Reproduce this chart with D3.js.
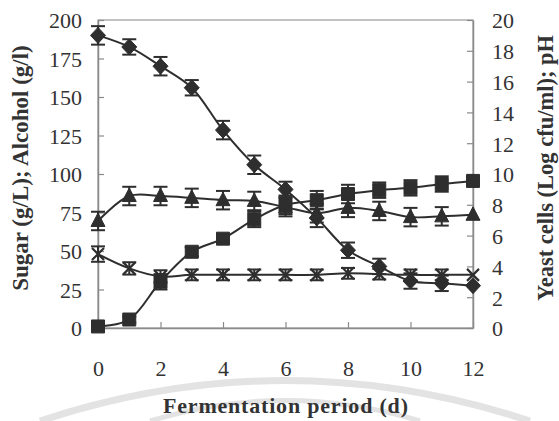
<!DOCTYPE html>
<html>
<head>
<meta charset="utf-8">
<script src="https://cdn.jsdelivr.net/npm/d3@7"></script>
<style>
  body { margin: 0; background: #fff; }
  svg { display: block; }
  text { font-family: "Liberation Serif", "Times New Roman", serif; fill: #333; }
</style>
</head>
<body>
<div id="chart"></div>
<script>
// fermentation days
var days = [0, 1, 2, 3, 4, 5, 6, 7, 8, 9, 10, 11, 12];

// left axis series (g/L)
var sugar      = [190, 182.5, 170, 156, 128.5, 106, 90, 71.5, 50.5, 40, 30.5, 29, 27.5];
var sugarErr   = [6, 5, 6, 5, 6, 6, 5, 6, 5, 5, 5, 5, 0];
var alcohol    = [1, 5.5, 30, 49.5, 58, 70.5, 80, 83, 87, 89.5, 91, 93.5, 95.5];
var alcoholErr = [2, 2, 5, 3, 2, 5, 6, 6, 6, 5, 5, 5, 0];

// right axis series
var yeast    = [6.95, 8.57, 8.57, 8.45, 8.3, 8.25, 7.85, 7.45, 7.8, 7.6, 7.2, 7.25, 7.35];
var yeastErr = [0.6, 0.6, 0.6, 0.6, 0.6, 0.6, 0.6, 0.6, 0.6, 0.6, 0.6, 0.6, 0];
var ph       = [4.8, 3.87, 3.35, 3.45, 3.45, 3.45, 3.45, 3.45, 3.55, 3.5, 3.45, 3.45, 3.45];
var phErr    = [0.5, 0.4, 0.4, 0.35, 0.35, 0.35, 0.35, 0.35, 0.35, 0.35, 0.35, 0.35, 0];

var leftTicks  = [0, 25, 50, 75, 100, 125, 150, 175, 200];
var rightTicks = [0, 2, 4, 6, 8, 10, 12, 14, 16, 18, 20];
var xTicks     = [0, 2, 4, 6, 8, 10, 12];

var W = 559, H = 421;
var margin = { top: 20, right: 86, bottom: 93, left: 98 };
var width = W - margin.left - margin.right,
    height = H - margin.top - margin.bottom;

var svg = d3.select("#chart").append("svg")
  .attr("width", W)
  .attr("height", H);

// faint watermark arcs at the bottom
var wm = svg.append("g").attr("fill", "none").attr("stroke", "#e3e3e3");
wm.append("path").attr("d", "M40,421 Q285,340 530,421").attr("stroke-width", 7);
wm.append("path").attr("d", "M150,421 Q285,380 420,421").attr("stroke-width", 5);

var g = svg.append("g")
  .attr("transform", "translate(" + margin.left + "," + margin.top + ")");

var x = d3.scaleLinear().domain([0, 12]).range([0, width]);
var yL = d3.scaleLinear().domain([0, 200]).range([height, 0]);
var yR = d3.scaleLinear().domain([0, 20]).range([height, 0]);

// frame
g.append("rect")
  .attr("width", width).attr("height", height)
  .attr("fill", "none").attr("stroke", "#9a9a9a").attr("stroke-width", 1.2);

var axL = g.append("g")
  .call(d3.axisLeft(yL).tickValues(leftTicks).tickSizeInner(-6).tickSizeOuter(0).tickPadding(16));
var axR = g.append("g")
  .attr("transform", "translate(" + width + ",0)")
  .call(d3.axisRight(yR).tickValues(rightTicks).tickSizeInner(-6).tickSizeOuter(0).tickPadding(19));
var axB = g.append("g")
  .attr("transform", "translate(0," + height + ")")
  .call(d3.axisBottom(x).tickValues(xTicks).tickSizeInner(-6).tickSizeOuter(0).tickPadding(32));

[axL, axR, axB].forEach(function (a) {
  a.select(".domain").attr("stroke", "#8a8a8a").attr("stroke-width", 1.5);
  a.selectAll(".tick line").attr("stroke", "#8a8a8a").attr("stroke-width", 1.2);
  a.selectAll(".tick text")
    .style("font-family", '"Liberation Serif", serif')
    .style("font-size", "22px")
    .attr("fill", "#333");
});
axL.selectAll(".tick text").attr("dy", "0.36em");
axR.selectAll(".tick text").attr("dy", "0.36em");

// axis titles
svg.append("text")
  .attr("x", 285.5).attr("y", 413)
  .attr("text-anchor", "middle")
  .attr("textLength", 245).attr("lengthAdjust", "spacing")
  .style("font-size", "22px").style("font-weight", "bold")
  .text("Fermentation period (d)");

svg.append("text")
  .attr("transform", "translate(28,168) rotate(-90)")
  .attr("text-anchor", "middle")
  .style("font-size", "23px").style("font-weight", "bold")
  .text("Sugar (g/L); Alcohol (g/l)");

svg.append("text")
  .attr("transform", "translate(553,168) rotate(-90)")
  .attr("text-anchor", "middle")
  .style("font-size", "22.5px").style("font-weight", "bold")
  .text("Yeast cells (Log cfu/ml); pH");

var ink = "#2e2e2e";

var series = [
  { vals: sugar,   err: sugarErr,   y: yL, shape: "diamond" },
  { vals: alcohol, err: alcoholErr, y: yL, shape: "square" },
  { vals: yeast,   err: yeastErr,   y: yR, shape: "triangle" },
  { vals: ph,      err: phErr,      y: yR, shape: "cross" }
];

function shapePath(s) {
  if (s == "diamond") return "M0,-8L7.5,0L0,8L-7.5,0Z";
  if (s == "square") return "M-6.5,-6.5H6.5V6.5H-6.5Z";
  if (s == "triangle") return "M0,-8L7,5.5H-7Z";
  return "M-6,-6L6,6M-6,6L6,-6";
}

series.forEach(function (sr) {
  var pts = days.map(function (d, i) { return { d: d, v: sr.vals[i], e: sr.err[i] }; });

  var line = d3.line()
    .x(function (p) { return x(p.d); })
    .y(function (p) { return sr.y(p.v); })
    .curve(d3.curveCatmullRom.alpha(0.5));

  g.append("path")
    .datum(pts)
    .attr("d", line)
    .attr("fill", "none")
    .attr("stroke", ink)
    .attr("stroke-width", 2);

  // error bars
  var eb = g.append("g").attr("stroke", ink).attr("stroke-width", 2);
  pts.filter(function (p) { return p.e > 0; }).forEach(function (p) {
    var cx = x(p.d), y1 = sr.y(p.v + p.e), y2 = sr.y(p.v - p.e);
    eb.append("line").attr("x1", cx).attr("x2", cx).attr("y1", y1).attr("y2", y2);
    eb.append("line").attr("x1", cx - 7).attr("x2", cx + 7).attr("y1", y1).attr("y2", y1);
    eb.append("line").attr("x1", cx - 7).attr("x2", cx + 7).attr("y1", y2).attr("y2", y2);
  });

  g.selectAll(null)
    .data(pts)
    .enter().append("path")
    .attr("transform", function (p) { return "translate(" + x(p.d) + "," + sr.y(p.v) + ")"; })
    .attr("d", shapePath(sr.shape))
    .attr("fill", sr.shape == "cross" ? "none" : ink)
    .attr("stroke", ink)
    .attr("stroke-width", sr.shape == "cross" ? 2.2 : 1);
});
</script>
</body>
</html>
